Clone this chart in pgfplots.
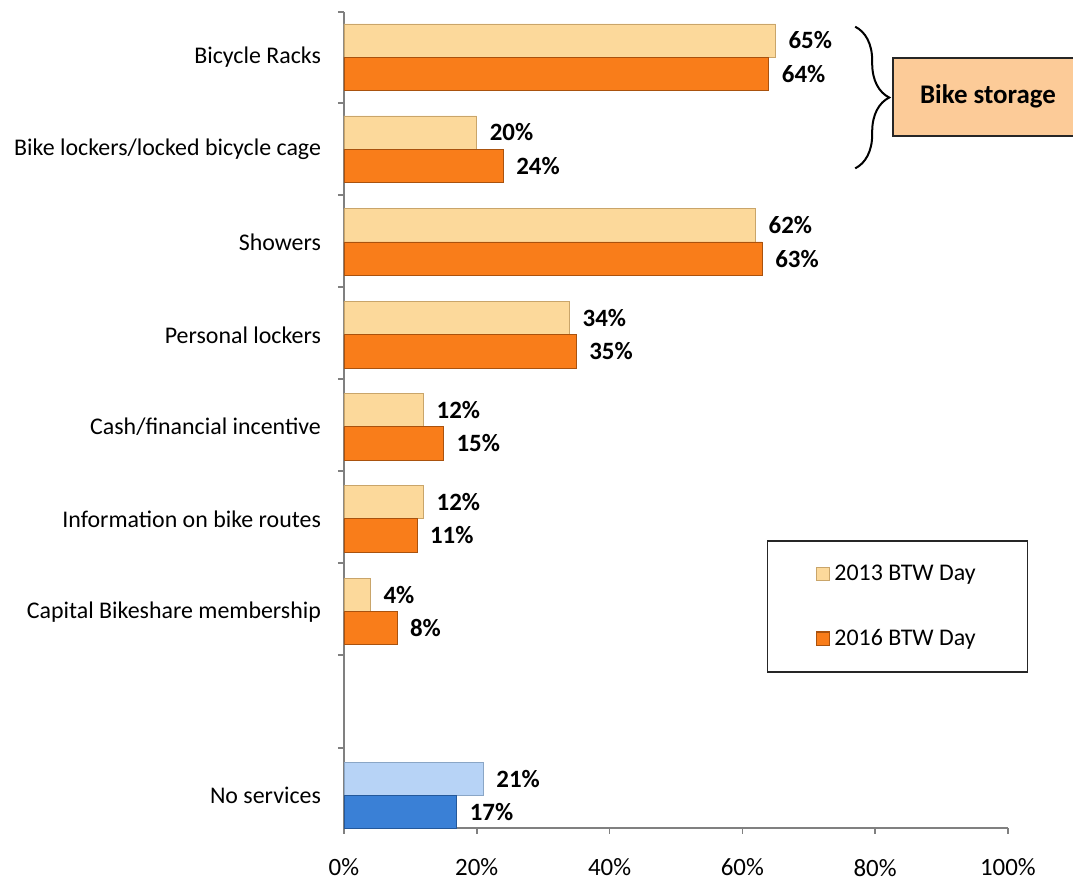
\documentclass[border=0pt]{standalone}
\usepackage{pgfplots}
\pgfplotsset{compat=1.18}
\usepackage{fontspec}
\setmainfont{Carlito}
\usetikzlibrary{decorations.pathreplacing}

\definecolor{lightor}{HTML}{FCD99B}
\definecolor{lightoredge}{HTML}{C9A56A}
\definecolor{darkor}{HTML}{F97D1A}
\definecolor{darkoredge}{HTML}{A9520E}
\definecolor{lightbl}{HTML}{B7D3F6}
\definecolor{lightbledge}{HTML}{8AA6C6}
\definecolor{darkbl}{HTML}{3A80D6}
\definecolor{darkbledge}{HTML}{24589A}
\definecolor{boxfill}{HTML}{FCCB98}
\definecolor{axgray}{HTML}{808080}

\begin{document}
\begin{tikzpicture}
\begin{axis}[
  scale only axis,
  width=332bp, height=408bp,
  xbar, bar width=0.36,
  xmin=0, xmax=100, ymin=0, ymax=8.87,
  axis lines=left,
  axis line style={-, draw=axgray, line width=0.9bp},
  clip=false,
  /pgf/number format/assume math mode=true,
  xtick={0,20,40,60,80,100},
  minor xtick={0,20,40,60,80,100},
  xticklabel={\pgfmathprintnumber{\tick}\%},
  tick align=outside,
  major tick length=0pt,
  minor tick length=3bp,
  tick style={draw=axgray, line width=0.8bp},
  xticklabel style={font=\fontsize{12.5}{14}\selectfont, yshift=-12bp},
  ytick={8.38,7.38,6.37,5.36,4.36,3.36,2.35,0.35},
  yticklabels={Bicycle Racks, Bike lockers/locked bicycle cage, Showers, Personal lockers, Cash/financial incentive, Information on bike routes, Capital Bikeshare membership, No services},
  yticklabel style={font=\fontsize{12}{14}\selectfont, xshift=-8bp},
  minor ytick={0.87,1.88,2.88,3.88,4.88,5.88,6.88,7.88,8.87},
  nodes near coords={\pgfmathprintnumber{\pgfplotspointmeta}\%},
  every node near coord/.append style={font=\bfseries\fontsize{12.5}{14}\selectfont, anchor=west, xshift=3bp, text=black},
  legend image code/.code={\draw[#1] (0bp,-3.3bp) rectangle (6.6bp,3.3bp);},
  legend cell align=left,
  legend style={at={(rel axis cs:0.637,0.353)}, anchor=north west,
    draw=black!85, line width=0.8bp, inner xsep=24bp, inner ysep=10bp,
    row sep=19bp, font=\fontsize{12}{14}\selectfont,
    column 2/.style={text width=69bp}},
]
\addplot[fill=lightor, draw=lightoredge, bar shift=0.18] coordinates {
  (65,8.38) (20,7.38) (62,6.37) (34,5.36) (12,4.36) (12,3.36) (4,2.35)
};
\addlegendentry{2013 BTW Day}
\addplot[fill=darkor, draw=darkoredge, bar shift=-0.18] coordinates {
  (64,8.38) (24,7.38) (63,6.37) (35,5.36) (15,4.36) (11,3.36) (8,2.35)
};
\addlegendentry{2016 BTW Day}
\addplot[fill=lightbl, draw=lightbledge, bar shift=0.18, forget plot] coordinates {(21,0.35)};
\addplot[fill=darkbl, draw=darkbledge, bar shift=-0.18, forget plot] coordinates {(17,0.35)};

\draw[decorate, decoration={brace, amplitude=17bp}, line width=1bp]
  (axis cs:77,8.71) -- (axis cs:77,7.17);
\draw[fill=boxfill, draw=black!85, line width=0.9bp]
  (axis cs:82.7,7.52) rectangle (axis cs:118,8.37);
\node[font=\bfseries\fontsize{13.5}{15}\selectfont] at (axis cs:97,7.95) {Bike storage};

\coordinate (bbl) at (rel axis cs:-0.518,-0.0662);
\coordinate (btr) at (rel axis cs:1.098,1.0147);
\end{axis}
\pgfresetboundingbox
\path (bbl) rectangle (btr);
\end{tikzpicture}
\end{document}
